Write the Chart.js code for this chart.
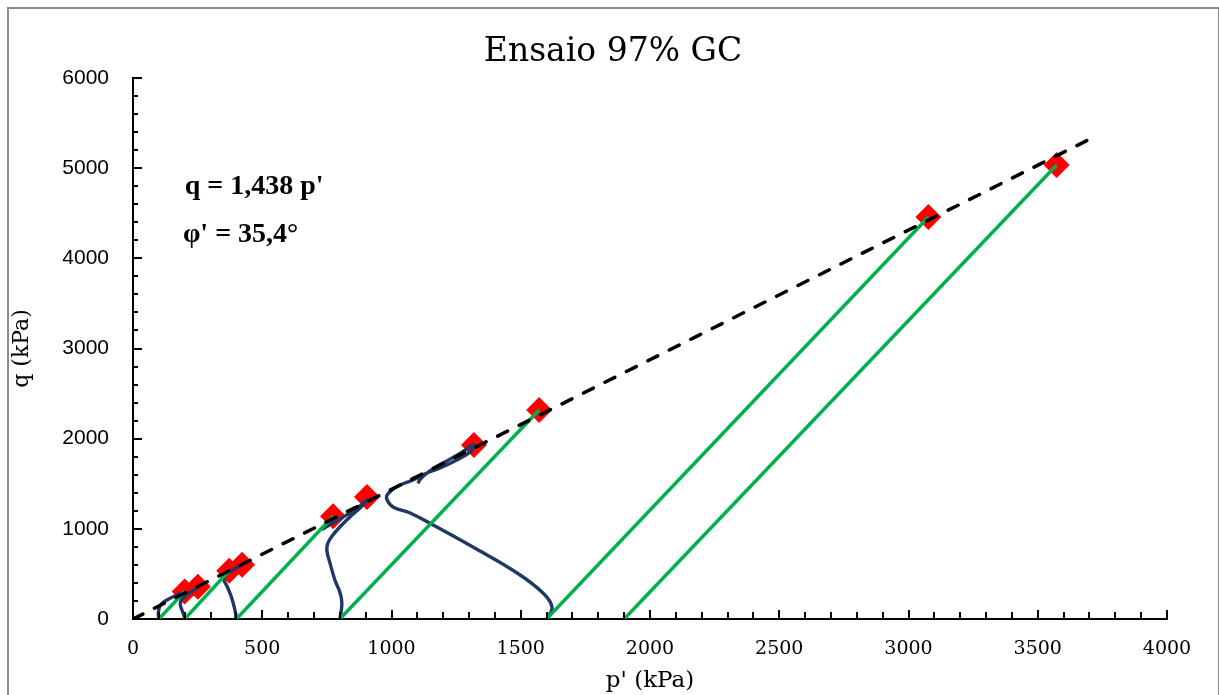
<!DOCTYPE html>
<html>
<head>
<meta charset="utf-8">
<script src="https://cdn.jsdelivr.net/npm/chart.js@4.4.1/dist/chart.umd.min.js"></script>
<style>
  html, body { margin: 0; padding: 0; background: #fff; overflow: hidden; }
  #frame { position: absolute; left: 7px; top: 7px; width: 1209px; height: 760px; border: 2px solid #8c8c8c; }
  #wrap { position: absolute; left: 0; top: 0; width: 1219px; height: 695px; }
</style>
</head>
<body>
<div id="frame"></div>
<div id="wrap"><canvas id="chart"></canvas></div>
<script>
// failure envelope q = 1,438 p'
const envelopeP = [0, 3700];
const envelopeQ = [0, 5320];

// drained paths (green)
const drainedStartP = [100, 200, 400, 800, 1600, 1900];
const drainedEndP = [200, 372, 774, 1571, 3077, 3573];
const drainedEndQ = [305, 535, 1140, 2318, 4458, 5035];

// undrained paths (blue)
const undrained100P = [100, 98, 102, 115, 140, 170, 200];
const undrained100Q = [0, 60, 130, 180, 225, 265, 300];
const undrained200P = [200, 196, 188, 183, 190, 210, 232, 251];
const undrained200Q = [0, 50, 110, 170, 220, 270, 315, 355];
const undrained400P = [398, 397, 390, 380, 366, 350, 352, 375, 400, 422];
const undrained400Q = [0, 60, 150, 250, 350, 440, 475, 525, 568, 603];
const undrained800P = [801, 808, 800, 781, 762, 750, 754, 770, 800, 839, 880, 905, 870, 830, 790, 755, 731];
const undrained800Q = [0, 177, 300, 432, 621, 760, 843, 920, 1020, 1131, 1235, 1320, 1235, 1160, 1090, 1035, 990];
const undrained1600P = [1602, 1621, 1586, 1486, 1315, 1161, 1072, 1006, 983, 983, 1002, 1033, 1083, 1137, 1188, 1253, 1304, 1319, 1250, 1190, 1150, 1125, 1110, 1102];
const undrained1600Q = [0, 133, 288, 510, 798, 1042, 1176, 1242, 1320, 1375, 1431, 1486, 1541, 1619, 1675, 1763, 1852, 1930, 1810, 1715, 1645, 1590, 1545, 1505];

// failure points (red)
const failureP = [200, 251, 372, 422, 774, 905, 1319, 1571, 3077, 3573];
const failureQ = [305, 358, 535, 603, 1140, 1352, 1930, 2318, 4458, 5035];

const xTicksMinor = 100;
const yTicksMinor = 200;

const toPoints = (ps, qs) => ps.map((p, i) => ({ x: p, y: qs[i] }));

const datasets = [];

datasets.push({
  label: 'envoltória',
  data: toPoints(envelopeP, envelopeQ),
  showLine: true,
  borderColor: '#000000',
  borderWidth: 3.5,
  borderDash: [11, 13],
  borderCapStyle: 'round',
  pointRadius: 0,
  order: 0
});

drainedStartP.forEach((p0, i) => {
  datasets.push({
    label: 'drenado ' + p0,
    data: toPoints([p0, drainedEndP[i]], [0, drainedEndQ[i]]),
    showLine: true,
    borderColor: '#00b050',
    borderWidth: 3.5,
    pointRadius: 0,
    order: 1
  });
});

const undrained = [
  [undrained100P, undrained100Q],
  [undrained200P, undrained200Q],
  [undrained400P, undrained400Q],
  [undrained800P, undrained800Q],
  [undrained1600P, undrained1600Q]
];
undrained.forEach(([ps, qs]) => {
  datasets.push({
    label: 'não drenado ' + ps[0],
    data: toPoints(ps, qs),
    showLine: true,
    borderColor: '#1f3864',
    borderWidth: 3.4,
    tension: 0.4,
    pointRadius: 0,
    order: 2
  });
});

datasets.push({
  label: 'ruptura',
  data: toPoints(failureP, failureQ),
  showLine: false,
  pointStyle: 'rectRot',
  pointRadius: 13,
  pointBackgroundColor: '#ff0000',
  pointBorderColor: '#ff0000',
  pointBorderWidth: 0,
  order: 3
});

// minor tick marks pointing into the plot area
const innerTicks = {
  id: 'innerTicks',
  afterDraw(chart) {
    const { ctx, scales: { x, y }, chartArea } = chart;
    ctx.save();
    ctx.strokeStyle = '#000';
    ctx.lineWidth = 2;
    for (let v = x.min; v <= x.max; v += xTicksMinor) {
      const px = Math.round(x.getPixelForValue(v));
      const len = v % 500 === 0 ? 9 : 7;
      ctx.beginPath();
      ctx.moveTo(px, chartArea.bottom);
      ctx.lineTo(px, chartArea.bottom - len);
      ctx.stroke();
    }
    for (let v = y.min; v <= y.max; v += yTicksMinor) {
      const py = Math.round(y.getPixelForValue(v));
      const len = v % 1000 === 0 ? 9 : 5;
      ctx.beginPath();
      ctx.moveTo(chartArea.left, py);
      ctx.lineTo(chartArea.left + len, py);
      ctx.stroke();
    }
    ctx.restore();
  }
};

// title (centred on the frame) and equation text
const textLayer = {
  id: 'textLayer',
  afterDraw(chart) {
    const { ctx, scales: { x, y } } = chart;
    ctx.save();
    ctx.fillStyle = '#000';
    ctx.textBaseline = 'middle';
    ctx.textAlign = 'center';
    ctx.font = '33px "DejaVu Serif", serif';
    ctx.fillText('Ensaio 97% GC', 613, 52);
    ctx.textAlign = 'left';
    ctx.font = 'bold 28px "Liberation Serif", serif';
    ctx.fillText("q = 1,438 p'", x.getPixelForValue(200), y.getPixelForValue(4790));
    ctx.fillText("φ' = 35,4°", x.getPixelForValue(193), y.getPixelForValue(4260));
    ctx.restore();
  }
};

const serifFont = '"DejaVu Serif", serif';
const sansFont = '"Liberation Sans", Arial, sans-serif';

new Chart(document.getElementById('chart'), {
  type: 'scatter',
  data: { datasets },
  plugins: [innerTicks, textLayer],
  options: {
    responsive: true,
    maintainAspectRatio: false,
    animation: false,
    layout: { padding: { top: 78, left: 0, right: 52, bottom: 0 } },
    plugins: {
      legend: { display: false },
      tooltip: { enabled: false },
      title: { display: false }
    },
    scales: {
      x: {
        type: 'linear',
        min: 0,
        max: 4000,
        afterFit: (s) => { s.height = 76; },
        grid: { display: false, drawTicks: false },
        border: { display: true, color: '#000', width: 2 },
        ticks: { stepSize: 500, color: '#000', padding: 19, font: { family: serifFont, size: 19 }, callback: (v) => String(v) },
        title: { display: true, text: "p' (kPa)", color: '#000', font: { family: serifFont, size: 23, lineHeight: 1.2 }, padding: { top: 0, bottom: 0 } }
      },
      y: {
        type: 'linear',
        min: 0,
        max: 6000,
        afterFit: (s) => { s.width = 133; },
        grid: { display: false, drawTicks: false },
        border: { display: true, color: '#000', width: 2 },
        ticks: { stepSize: 1000, color: '#000', padding: 24, font: { family: sansFont, size: 21 }, callback: (v) => String(v) },
        title: { display: true, text: 'q (kPa)', color: '#000', font: { family: serifFont, size: 22, lineHeight: 1.2 }, padding: { top: 9, bottom: 0 } }
      }
    }
  }
});
</script>
</body>
</html>
